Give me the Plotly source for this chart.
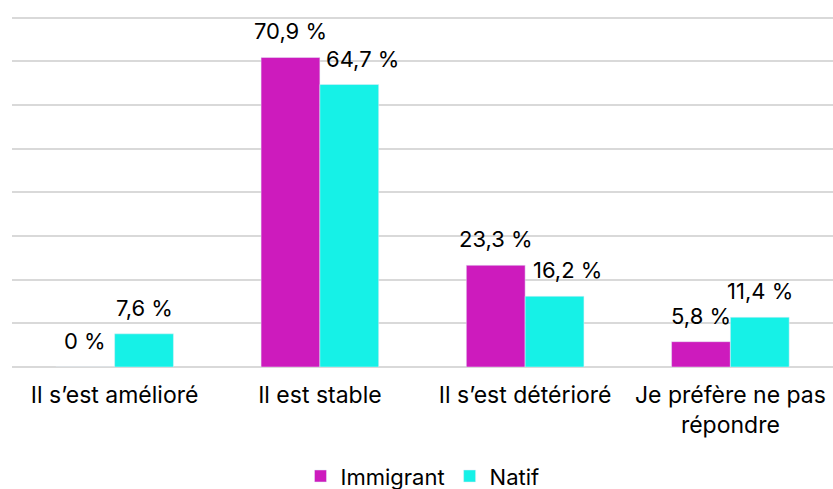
import plotly.graph_objects as go

categories = ["Il s’est amélioré", "Il est stable", "Il s’est détérioré", "Je préfère ne pas<br>répondre"]
immigrant = [0, 70.9, 23.3, 5.8]
natif = [7.6, 64.7, 16.2, 11.4]
immigrant_labels = ["0 %", "70,9 %", "23,3 %", "5,8 %"]
natif_labels = ["7,6 %", "64,7 %", "16,2 %", "11,4 %"]
grid_values = [0, 10, 20, 30, 40, 50, 60, 70, 80]

C_IMM = "#CD1BBD"
C_NAT = "#16F1E7"
GRID = "#D9D9D9"
FONT = "Inter"
FS = 23

fig = go.Figure()
fig.add_trace(go.Bar(name="Immigrant", x=categories, y=immigrant, marker_color=C_IMM))
fig.add_trace(go.Bar(name="Natif", x=categories, y=natif, marker_color=C_NAT))
# top gridline as a line trace on an overlaid helper x-axis spanning the full width
fig.add_trace(go.Scatter(x=[0, 1], y=[grid_values[-1], grid_values[-1]], mode="lines",
                         line=dict(color=GRID, width=1.5), xaxis="x2", yaxis="y",
                         showlegend=False, hoverinfo="skip", cliponaxis=False))

off = 29.5
extra_nat = [0, 13, 13, 0]
annotations = []
for i, c in enumerate(categories):
    annotations.append(dict(x=c, y=immigrant[i], text=immigrant_labels[i], showarrow=False,
                            xshift=-off, yshift=26, yanchor="middle", xanchor="center",
                            font=dict(family=FONT, size=FS - 1, color="#000")))
    annotations.append(dict(x=c, y=natif[i], text=natif_labels[i], showarrow=False,
                            xshift=off + extra_nat[i], yshift=26, yanchor="middle", xanchor="center",
                            font=dict(family=FONT, size=FS - 1, color="#000")))

fig.update_layout(
    width=833, height=489,
    margin=dict(l=12, r=0, t=9, b=122, autoexpand=False),
    paper_bgcolor="white", plot_bgcolor="white",
    barmode="group", bargap=0.427, bargroupgap=0,
    font=dict(family=FONT, size=FS, color="#000"),
    annotations=annotations,
    showlegend=True,
    legend=dict(orientation="h", x=0.5, xanchor="center", y=-0.305, yanchor="middle",
                font=dict(family=FONT, size=FS - 1, color="#000"), itemwidth=30,
                tracegroupgap=0, traceorder="normal"),
    xaxis=dict(showline=False, ticks="", ticklabelstandoff=12,
               tickfont=dict(family=FONT, size=FS, color="#000")),
    xaxis2=dict(overlaying="x", range=[0, 1], visible=False, fixedrange=True),
    yaxis=dict(range=[0, 82], tickvals=grid_values,
               showticklabels=False, showgrid=True,
               gridcolor=GRID, gridwidth=1.5, zeroline=True, zerolinecolor=GRID,
               zerolinewidth=1.5, fixedrange=True),
)

fig.write_html("out.html", config={"displayModeBar": False},
               post_script="document.body.style.margin='0';")
